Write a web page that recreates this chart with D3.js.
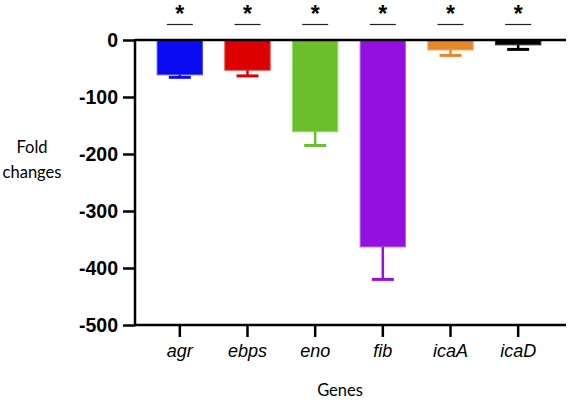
<!DOCTYPE html>
<html><head><meta charset="utf-8">
<script src="https://cdn.jsdelivr.net/npm/d3@7"></script>
<style>body{margin:0;background:#fff}svg{display:block}</style>
</head><body>
<svg id="c" width="568" height="400"></svg>
<script>
const genes = ["agr","ebps","eno","fib","icaA","icaD"];
const foldChange = [-61, -53, -161, -363, -17.5, -8.5];
const errors = [4.5, 10, 24, 57, 9.5, 8];
const colors = ["#0b0bf2","#dd0000","#6cbf2c","#9410e0","#e8872a","#000000"];
const edgeColors = ["#4b4bff","#f04040","#9ad870","#b45cf0","#f0a860","#303030"];
const yTicks = [0,-100,-200,-300,-400,-500];
const sig = ["*","*","*","*","*","*"];

const svg = d3.select("#c");
const x = d3.scaleBand().domain(genes).range([146,552]).paddingInner(0.33).paddingOuter(0.165);
const y = d3.scaleLinear().domain([-500,0]).range([325,40]);
const axL = 135, axR = 566;

// bars
svg.selectAll("rect.bar").data(genes).join("rect")
  .attr("x", d=>x(d)).attr("width", x.bandwidth())
  .attr("y", y(0)).attr("height", (d,i)=>y(foldChange[i])-y(0))
  .attr("fill",(d,i)=>colors[i]).attr("stroke",(d,i)=>edgeColors[i]).attr("stroke-width",1);

// error bars
const cx = d=>x(d)+x.bandwidth()/2;
svg.selectAll("line.err").data(genes).join("line")
  .attr("x1",cx).attr("x2",cx)
  .attr("y1",(d,i)=>y(foldChange[i])).attr("y2",(d,i)=>y(foldChange[i]-errors[i]))
  .attr("stroke",(d,i)=>colors[i]).attr("stroke-width",2.5);
svg.selectAll("line.cap").data(genes).join("line")
  .attr("x1",d=>cx(d)-11).attr("x2",d=>cx(d)+11)
  .attr("y1",(d,i)=>y(foldChange[i]-errors[i])).attr("y2",(d,i)=>y(foldChange[i]-errors[i]))
  .attr("stroke",(d,i)=>colors[i]).attr("stroke-width",3);

// y axis
const gy = svg.append("g").attr("transform",`translate(${axL},0)`)
  .call(d3.axisLeft(y).tickValues(yTicks).tickSize(12).tickPadding(5).tickFormat(d=>String(d)));
gy.select(".domain").remove();
gy.selectAll(".tick line").attr("stroke","#000").attr("stroke-width",2.5);
gy.selectAll(".tick text").attr("font-family","'Liberation Sans', Arial, sans-serif")
  .attr("font-weight","bold").attr("font-size",19.5).attr("fill","#000");
svg.append("line").attr("x1",axL).attr("x2",axL).attr("y1",y(0)-1).attr("y2",y(-500)+1.25)
  .attr("stroke","#000").attr("stroke-width",2.5);

// x axis
const gx = svg.append("g").attr("transform",`translate(0,${y(-500)})`)
  .call(d3.axisBottom(x).tickSize(12).tickPadding(7));
gx.select(".domain").remove();
gx.selectAll(".tick line").attr("stroke","#000").attr("stroke-width",2.5);
gx.selectAll(".tick text").attr("font-family","'Liberation Sans', Arial, sans-serif")
  .attr("font-style","italic").attr("font-size",18).attr("fill","#000");
svg.append("line").attr("x1",axL).attr("x2",axR).attr("y1",y(-500)).attr("y2",y(-500))
  .attr("stroke","#000").attr("stroke-width",2.5);

// zero line
svg.append("line").attr("x1",axL).attr("x2",axR).attr("y1",y(0)).attr("y2",y(0))
  .attr("stroke","#000").attr("stroke-width",2.5);

// significance
svg.selectAll("line.sig").data(genes).join("line")
  .attr("x1",d=>cx(d)-13).attr("x2",d=>cx(d)+13).attr("y1",24.5).attr("y2",24.5)
  .attr("stroke","#222").attr("stroke-width",1.2);
svg.selectAll("text.sig").data(genes).join("text")
  .attr("x",cx).attr("y",22).attr("text-anchor","middle")
  .attr("font-family","'Liberation Sans', Arial, sans-serif").attr("font-weight","bold")
  .attr("font-size",23).text((d,i)=>sig[i]);

// axis titles
const tf = "Lato, 'Open Sans', sans-serif";
svg.append("text").attr("x",32).attr("y",153).attr("text-anchor","middle")
  .attr("font-family",tf).attr("font-size",16.5).text("Fold");
svg.append("text").attr("x",32).attr("y",178).attr("text-anchor","middle")
  .attr("font-family",tf).attr("font-size",16.5).text("changes");
svg.append("text").attr("x",340).attr("y",396).attr("text-anchor","middle")
  .attr("font-family",tf).attr("font-size",16.5).text("Genes");
</script>
</body></html>
